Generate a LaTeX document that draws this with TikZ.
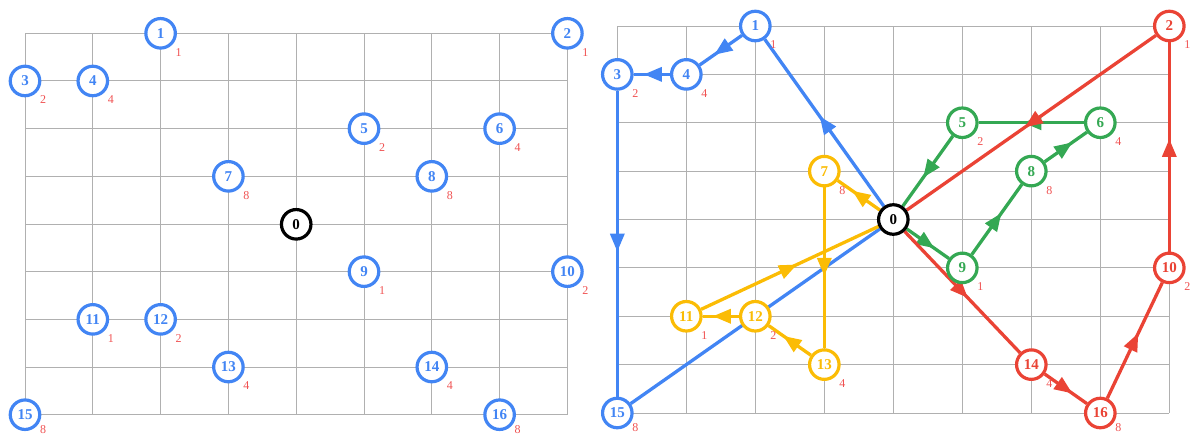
\documentclass[tikz,border=0pt]{standalone}
\usepackage{fontspec}
\setmainfont{Liberation Serif}
\usetikzlibrary{arrows.meta,decorations.markings}
\pgfdeclarelayer{gridlayer}
\pgfdeclarelayer{edgelayer}
\pgfsetlayers{gridlayer,edgelayer,main}
\definecolor{gblue}{HTML}{4285F4}
\definecolor{gred}{HTML}{EA4335}
\definecolor{ggreen}{HTML}{34A853}
\definecolor{gyellow}{HTML}{FBBC05}
\definecolor{labred}{HTML}{F05252}
\definecolor{gridgray}{HTML}{B0B0B0}
\tikzset{
  gridline/.style={draw=gridgray, line width=1pt},
  vtx/.style={circle, draw=#1, text=#1, fill=white, line width=3.2pt, minimum size=29.5pt, inner sep=0pt, font=\bfseries\fontsize{15}{15}\selectfont},
  wlabel/.style={text=labred, font=\fontsize{12}{12}\selectfont, inner sep=0pt},
  flow/.style={color=#1, line width=3.3pt, postaction={decorate},
    decoration={markings, mark=at position 0.5 with {\arrow[xshift=8pt]{Triangle[length=18pt,width=14pt]}}}},
}
\begin{document}
\begin{tikzpicture}[x=1pt,y=-1pt]
\useasboundingbox (0,0) rectangle (1190,437);
\begin{pgfonlayer}{gridlayer}
\foreach \i in {0,...,8} {
  \draw[gridline] ({25+67.8*\i},33.3) -- ({25+67.8*\i},414.7);
  \draw[gridline] (25,{33.3+47.675*\i}) -- (567.4,{33.3+47.675*\i});
  \draw[gridline] ({617.3+69.0*\i},26) -- ({617.3+69.0*\i},413);
  \draw[gridline] (617.3,{26+48.375*\i}) -- (1169.3,{26+48.375*\i});
}
\end{pgfonlayer}
% ---------------- left panel ----------------
\node[vtx=black] (L0) at (296.2,224.3) {0};
\foreach \n/\c/\r/\w/\dy in {1/2/0/1/19, 2/8/0/1/19, 3/0/1/2/19, 4/1/1/4/19, 5/5/2/2/19, 6/7/2/4/19, 7/3/3/8/19, 8/6/3/8/19,
  9/5/5/1/19, 10/8/5/2/19, 11/1/6/1/19, 12/2/6/2/19, 13/3/7/4/19, 14/6/7/4/19, 15/0/8/8/15, 16/7/8/8/15} {
  \node[vtx=gblue] (L\n) at ({25+67.8*\c},{33.3+47.675*\r}) {\n};
  \node[wlabel] (Lw\n) at ({25+67.8*\c+18},{33.3+47.675*\r+\dy}) {\w};
}
% ---------------- right panel ----------------
\node[vtx=black] (R0) at (893.3,219.5) {0};
\foreach \n/\c/\r/\w/\col/\dy in {1/2/0/1/gblue/19, 2/8/0/1/gred/19, 3/0/1/2/gblue/19, 4/1/1/4/gblue/19,
  5/5/2/2/ggreen/19, 6/7/2/4/ggreen/19, 7/3/3/8/gyellow/19, 8/6/3/8/ggreen/19,
  9/5/5/1/ggreen/19, 10/8/5/2/gred/19, 11/1/6/1/gyellow/19, 12/2/6/2/gyellow/19,
  13/3/7/4/gyellow/19, 14/6/7/4/gred/19, 15/0/8/8/gblue/15, 16/7/8/8/gred/15} {
  \node[vtx=\col] (R\n) at ({617.3+69.0*\c},{26+48.375*\r}) {\n};
  \node[wlabel] (Rw\n) at ({617.3+69.0*\c+18},{26+48.375*\r+\dy}) {\w};
}
\begin{pgfonlayer}{edgelayer}
% blue cycle
\draw[flow=gblue] (R0) -- (R1);
\draw[flow=gblue] (R1) -- (R4);
\draw[flow=gblue] (R4) -- (R3);
\draw[flow=gblue] (R3) -- (R15);
\draw[flow=gblue] (R15) -- (R0);
% green cycle
\draw[flow=ggreen] (R0) -- (R9);
\draw[flow=ggreen] (R9) -- (R8);
\draw[flow=ggreen] (R8) -- (R6);
\draw[flow=ggreen] (R6) -- (R5);
\draw[flow=ggreen] (R5) -- (R0);
% red cycle
\draw[flow=gred] (R0) -- (R14);
\draw[flow=gred] (R14) -- (R16);
\draw[flow=gred] (R16) -- (R10);
\draw[flow=gred] (R10) -- (R2);
\draw[flow=gred] (R2) -- (R0);
% yellow cycle
\draw[flow=gyellow] (R0) -- (R7);
\draw[flow=gyellow] (R7) -- (R13);
\draw[flow=gyellow] (R13) -- (R12);
\draw[flow=gyellow] (R12) -- (R11);
\draw[flow=gyellow] (R11) -- (R0);
\end{pgfonlayer}
\end{tikzpicture}
\end{document}
